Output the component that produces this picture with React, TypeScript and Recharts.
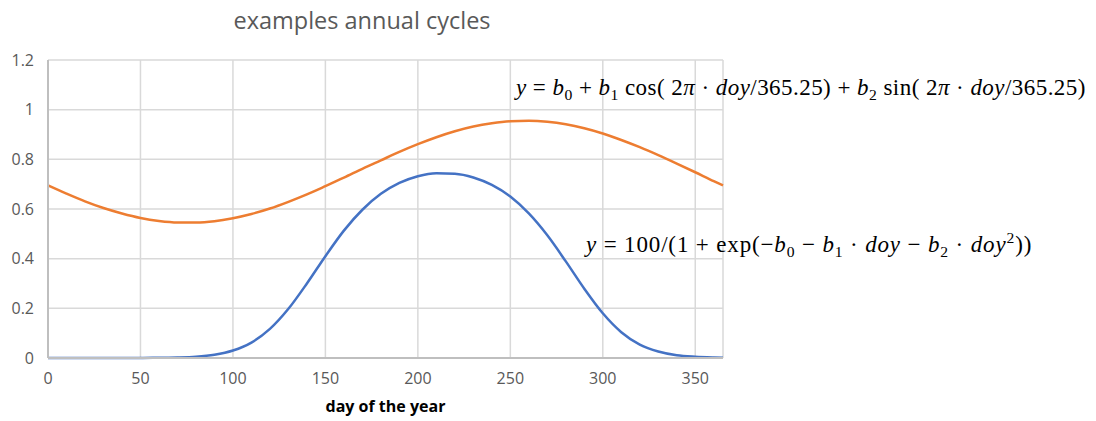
import React from 'react';
import { LineChart, Line, XAxis, YAxis, CartesianGrid, Label } from 'recharts';

// day of year sample points
const days = [0, 10, 20, 30, 40, 50, 60, 70, 80, 90, 100, 110, 120, 130, 140, 150, 160, 170, 180, 190,
  200, 210, 220, 230, 240, 250, 260, 270, 280, 290, 300, 310, 320, 330, 340, 350, 360, 365];

// harmonic (cos/sin) curve
const harmonicValues = [0.695, 0.662, 0.631, 0.604, 0.582, 0.564, 0.552, 0.546, 0.546, 0.551,
  0.563, 0.58, 0.602, 0.629, 0.659, 0.692, 0.726, 0.762, 0.796, 0.83,
  0.861, 0.889, 0.913, 0.932, 0.945, 0.953, 0.955, 0.951, 0.941, 0.925,
  0.904, 0.878, 0.849, 0.817, 0.783, 0.748, 0.712, 0.695];

// logistic (quadratic exponent) curve
const logisticValues = [0, 0, 0, 0, 0, 0, 0.001, 0.002, 0.005, 0.013,
  0.03, 0.062, 0.117, 0.198, 0.3, 0.41, 0.513, 0.597, 0.661, 0.705,
  0.732, 0.744, 0.742, 0.727, 0.697, 0.65, 0.582, 0.494, 0.389, 0.279,
  0.18, 0.104, 0.054, 0.026, 0.011, 0.005, 0.002, 0.001];

const xTicks = [0, 50, 100, 150, 200, 250, 300, 350];
const yTicks = [0, 0.2, 0.4, 0.6, 0.8, 1, 1.2];

const chartData = days.map((d, i) => ({
  day: d,
  harmonic: harmonicValues[i],
  logistic: logisticValues[i],
}));

const XTick = ({ x, y, payload }: any) => (
  <text x={x} y={y} dy="0.71em" textAnchor="middle" fill="#595959" fontSize={16} fontFamily="Open Sans">
    {payload.value}
  </text>
);

const YTick = ({ x, y, payload }: any) => (
  <text x={x} y={y} dy="0.355em" textAnchor="end" fill="#595959" fontSize={16} fontFamily="Open Sans">
    {payload.value}
  </text>
);

const subStyle: React.CSSProperties = { fontSize: '0.68em', verticalAlign: '-0.3em', lineHeight: 0 };
const supStyle: React.CSSProperties = { fontSize: '0.68em', verticalAlign: '0.55em', lineHeight: 0 };
const eqStyle: React.CSSProperties = {
  position: 'absolute',
  whiteSpace: 'nowrap',
  fontFamily: 'Liberation Serif',
  fontSize: 23,
  color: '#000',
  lineHeight: 1,
};

const App: React.FC = () => {
  return (
    <div style={{ position: 'absolute', left: 0, top: 0, width: 1096, height: 421, background: '#fff' }}>
      <div
        style={{
          position: 'absolute',
          left: 0,
          width: 724,
          top: 4,
          textAlign: 'center',
          fontFamily: 'Open Sans',
          fontSize: 23.5,
          color: '#595959',
        }}
      >
        examples annual cycles
      </div>

      <LineChart
        width={1096}
        height={421}
        data={chartData}
        margin={{ top: 60, right: 373, left: 0, bottom: 33 }}
      >
        <CartesianGrid stroke="#d9d9d9" strokeWidth={1.5} />
        <XAxis
          dataKey="day"
          type="number"
          domain={[0, 365]}
          ticks={xTicks}
          tick={<XTick />}
          tickSize={0}
          tickMargin={15}
          height={30}
          stroke="#bfbfbf"
          strokeWidth={2}
        >
          <Label
            value="day of the year"
            position="bottom"
            offset={13}
            style={{ fill: '#000', fontSize: 16, fontWeight: 'bold', fontFamily: 'Open Sans' }}
          />
        </XAxis>
        <YAxis
          type="number"
          domain={[0, 1.2]}
          ticks={yTicks}
          tick={<YTick />}
          tickSize={0}
          tickMargin={14}
          width={48}
          stroke="#bfbfbf"
          strokeWidth={2}
        />
        <Line
          type="monotone"
          dataKey="harmonic"
          stroke="#ED7D31"
          strokeWidth={2.5}
          dot={false}
          isAnimationActive={false}
        />
        <Line
          type="monotone"
          dataKey="logistic"
          stroke="#4472C4"
          strokeWidth={2.5}
          dot={false}
          isAnimationActive={false}
        />
      </LineChart>

      <div style={{ ...eqStyle, left: 516, top: 76, letterSpacing: 0.45 }}>
        <i>y</i> = <i>b</i><span style={subStyle}>0</span> + <i>b</i><span style={subStyle}>1</span> cos( 2<i>π</i> · <i>doy</i>/365.25) + <i>b</i><span style={subStyle}>2</span> sin( 2<i>π</i> · <i>doy</i>/365.25)
      </div>
      <div style={{ ...eqStyle, left: 586, top: 233, letterSpacing: 0.85 }}>
        <i>y</i> = 100/(1 + exp(−<i>b</i><span style={subStyle}>0</span> − <i>b</i><span style={subStyle}>1</span> · <i>doy</i> − <i>b</i><span style={subStyle}>2</span> · <i>doy</i><span style={supStyle}>2</span>))
      </div>
    </div>
  );
};

export default App;
